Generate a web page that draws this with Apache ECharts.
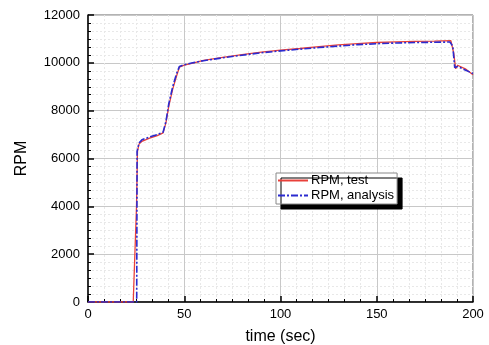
<!DOCTYPE html>
<html><head><meta charset="utf-8">
<script src="https://cdn.jsdelivr.net/npm/echarts@6/dist/echarts.min.js"></script>
<style>html,body{margin:0;padding:0;background:#fff}#c{width:489px;height:345px}</style>
</head><body><div id="c"></div>
<script>
const xTicks = [0, 50, 100, 150, 200];
const yTicks = [0, 2000, 4000, 6000, 8000, 10000, 12000];
const testTime = [0, 23.5, 25.2, 25.7, 26.5, 28, 32, 36, 39, 40.5, 42, 44, 46, 47.5, 50, 55, 60, 70, 80, 90, 100, 110, 120, 130, 140, 150, 160, 170, 180, 188.5, 190, 191, 192, 196, 200];
const testRPM  = [0, 0, 4000, 6300, 6600, 6720, 6850, 6960, 7070, 7500, 8200, 8900, 9450, 9820, 9900, 10000, 10100, 10230, 10340, 10450, 10530, 10600, 10680, 10750, 10800, 10850, 10880, 10900, 10910, 10930, 10400, 9750, 9900, 9750, 9500];
const anaTime = [0, 25.3, 25.5, 26.5, 28, 32, 36, 39, 40.5, 42, 44, 46, 47.5, 50, 55, 60, 70, 80, 90, 100, 110, 120, 130, 140, 150, 160, 170, 180, 188, 189.5, 190.5, 192, 196, 200];
const anaRPM  = [0, 0, 6300, 6650, 6780, 6900, 7000, 7100, 7550, 8300, 9000, 9550, 9850, 9920, 10010, 10090, 10210, 10320, 10420, 10500, 10570, 10640, 10700, 10760, 10800, 10830, 10850, 10860, 10870, 10700, 9800, 9850, 9700, 9550];

const chart = echarts.init(document.getElementById('c'), null, {renderer: 'canvas'});
const font = 'Liberation Sans, Arial, sans-serif';
chart.setOption({
  animation: false,
  backgroundColor: '#fff',
  grid: {left: 88, right: 16, top: 15, bottom: 43, show: true, borderColor: '#666', borderWidth: 1,
         containLabel: false, outerBoundsMode: 'none'},
  legend: {
    orient: 'vertical', left: 276, top: 173,
    backgroundColor: '#fff', borderColor: '#888', borderWidth: 1,
    shadowColor: '#000', shadowOffsetX: 5, shadowOffsetY: 5, shadowBlur: 0,
    padding: [1, 3, 2, 1], itemGap: 2, itemWidth: 30, itemHeight: 10,
    itemStyle: {opacity: 0},
    textStyle: {fontFamily: font, fontSize: 13, color: '#000', padding: [0, 0, 0, -2]},
    data: ['RPM, test', 'RPM, analysis']
  },
  xAxis: {
    type: 'value', min: 0, max: 200, interval: 50,
    name: 'time (sec)', nameLocation: 'middle', nameGap: 27,
    nameTextStyle: {fontFamily: font, fontSize: 16, color: '#000'},
    axisLine: {lineStyle: {color: '#000', width: 1.5}},
    axisTick: {inside: true, length: 6, lineStyle: {color: '#000', width: 1.5}},
    minorTick: {show: true, splitNumber: 6, length: 3, lineStyle: {color: '#000'}},
    axisLabel: {fontFamily: font, fontSize: 13, color: '#000', margin: 6,
      formatter: v => xTicks.includes(v) ? String(v) : ''},
    splitLine: {show: true, lineStyle: {color: '#c8c8c8', width: 1}},
    minorSplitLine: {show: true, lineStyle: {color: '#e8e8e8', type: [2, 2]}}
  },
  yAxis: {
    type: 'value', min: 0, max: 12000, interval: 2000,
    name: 'RPM', nameLocation: 'middle', nameGap: 58,
    nameTextStyle: {fontFamily: font, fontSize: 16, color: '#000'},
    axisLine: {show: true, lineStyle: {color: '#000', width: 1.5}},
    axisTick: {show: true, inside: true, length: 6, lineStyle: {color: '#000', width: 1.5}},
    minorTick: {show: true, splitNumber: 6, length: 3, lineStyle: {color: '#000'}},
    axisLabel: {fontFamily: font, fontSize: 13, color: '#000', margin: 8,
      formatter: v => yTicks.includes(v) ? String(v) : ''},
    splitLine: {show: true, lineStyle: {color: '#c8c8c8', width: 1}},
    minorSplitLine: {show: true, lineStyle: {color: '#e8e8e8', type: [2, 2]}}
  },
  series: [
    {name: 'RPM, test', type: 'line', showSymbol: false, symbol: 'none',
     color: '#e8403a', lineStyle: {width: 1.3, color: '#e8403a'},
     data: testTime.map((t, i) => [t, testRPM[i]])},
    {name: 'RPM, analysis', type: 'line', showSymbol: false, symbol: 'none',
     color: '#2b2bd0', lineStyle: {width: 1.6, color: '#2b2bd0', type: [7, 2, 2, 2]},
     data: anaTime.map((t, i) => [t, anaRPM[i]])}
  ]
});
</script></body></html>
